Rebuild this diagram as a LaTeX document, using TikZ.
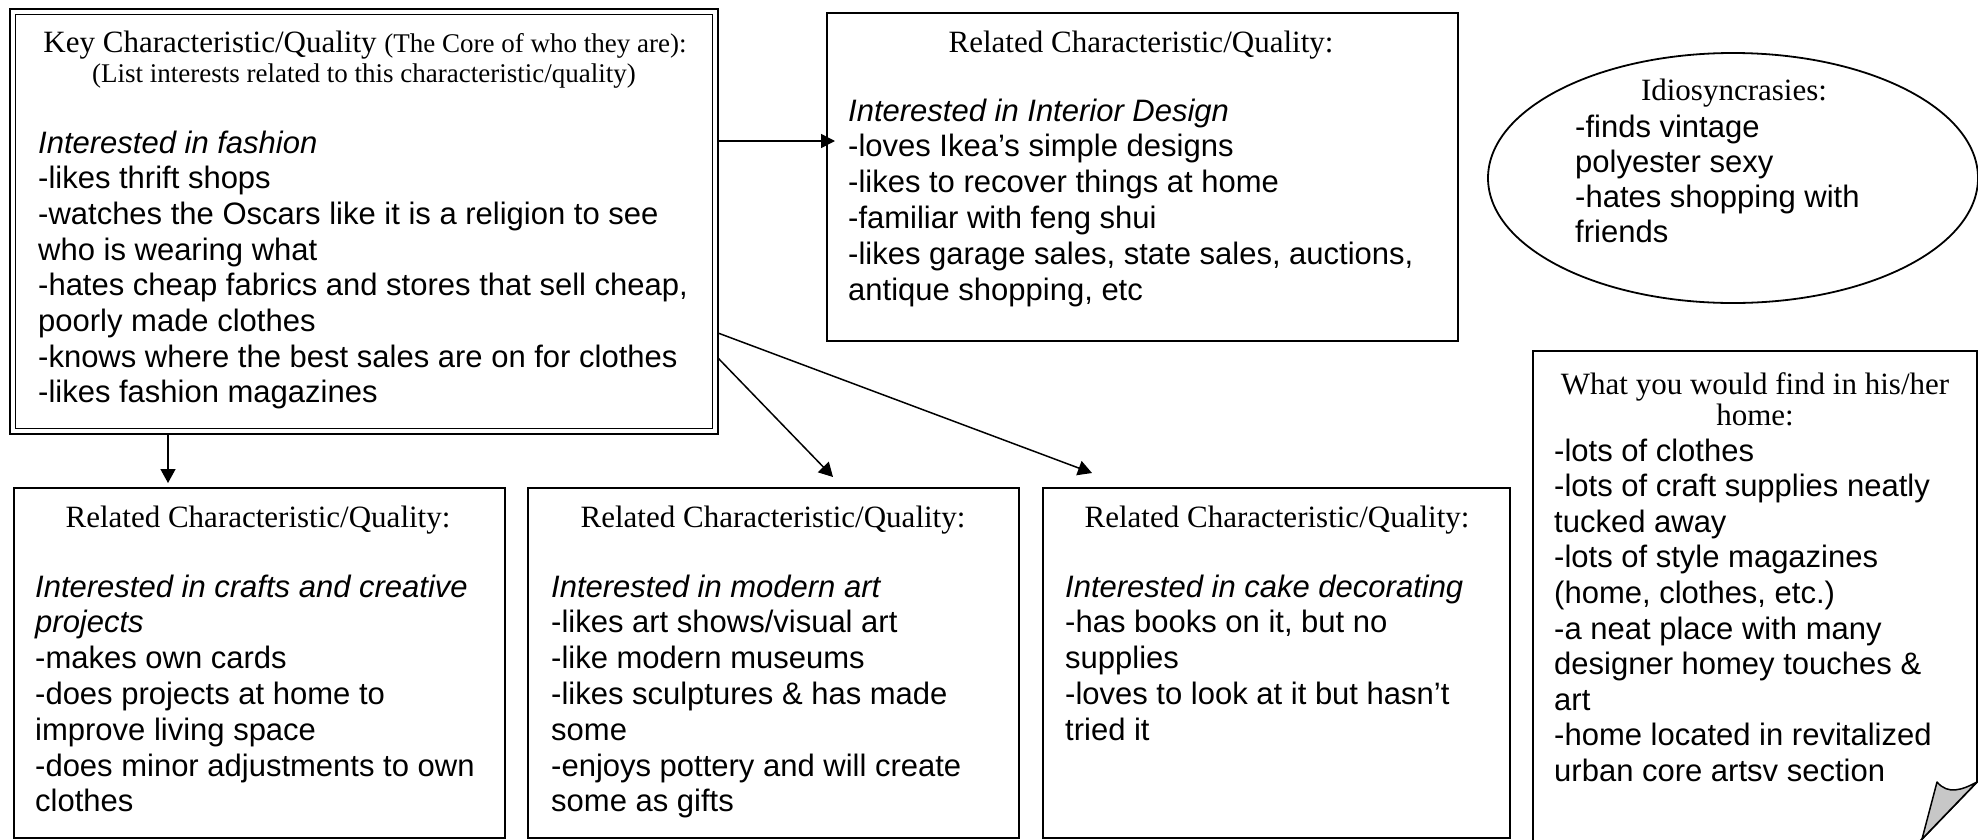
\documentclass[tikz,border=0pt]{standalone}
\usepackage{fontspec}
\setmainfont{Liberation Serif}
\setsansfont{Liberation Sans}
\usetikzlibrary{arrows.meta,shapes.geometric,calc}
\begin{document}
\begin{tikzpicture}[x=1pt,y=-1pt,
  box/.style={draw,line width=1.8pt,inner sep=0pt,outer sep=0pt},
  txt/.style={font=\sffamily\fontsize{31}{35.6}\selectfont,inner sep=0pt,anchor=base west},
  head/.style={font=\rmfamily\fontsize{31}{35.6}\selectfont,inner sep=0pt,anchor=base},
  small/.style={font=\rmfamily\fontsize{27}{30}\selectfont},
  arr/.style={-{Triangle[length=14pt,width=15pt]},line width=1.5pt},
  arrs/.style={-{Triangle[length=14pt,width=14pt]},line width=1.5pt}]
\useasboundingbox (0,0) rectangle (1978,839);

% ---------- key box (double border) ----------
\node[box,line width=2.2pt,minimum width=708pt,minimum height=425pt] (key) at (364,221.5) {};
\draw[line width=1.8pt] ([xshift=5.5pt,yshift=-5.5pt]key.north west) rectangle ([xshift=-5.5pt,yshift=5.5pt]key.south east);
\node[head] (keyh1) at (365,52) {Key Characteristic/Quality {\fontsize{27}{30}\selectfont (The Core of who they are):}};
\node[head,small] (keyh2) at (364,82) {(List interests related to this characteristic/quality)};
\foreach \t [count=\i from 0] in {{\itshape Interested in fashion},
  -likes thrift shops,
  -watches the Oscars like it is a religion to see,
  who is wearing what,
  {-hates cheap fabrics and stores that sell cheap,},
  poorly made clothes,
  -knows where the best sales are on for clothes,
  -likes fashion magazines}
  \node[txt] (key-\i) at (38,{153+35.7*\i}) {\t};

% ---------- interior design ----------
\node[box,minimum width=631pt,minimum height=328pt] (int) at (1142.5,177) {};
\node[head] (inth) at (1141,52) {Related Characteristic/Quality:};
\foreach \t [count=\i from 0] in {{\itshape Interested in Interior Design},
  -loves Ikea’s simple designs,
  -likes to recover things at home,
  -familiar with feng shui,
  {-likes garage sales, state sales, auctions,},
  {antique shopping, etc}}
  \node[txt] (int-\i) at (848,{121+35.8*\i}) {\t};

% ---------- idiosyncrasies ----------
\node[draw,ellipse,line width=1.8pt,inner sep=0pt,minimum width=490pt,minimum height=250pt] (idio) at (1733,178) {};
\node[head] (idioh) at (1734,100) {Idiosyncrasies:};
\foreach \t [count=\i from 0] in {-finds vintage,
  polyester sexy,
  -hates shopping with,
  friends}
  \node[txt] (idio-\i) at (1575,{137+35*\i}) {\t};

% ---------- bottom boxes ----------
\node[box,minimum width=491pt,minimum height=350pt] (crafts) at (259.5,663) {};
\node[box,minimum width=491pt,minimum height=350pt] (modern) at (773.5,663) {};
\node[box,minimum width=467pt,minimum height=350pt] (cake) at (1276.5,663) {};
\node[head] (craftsh) at (258,527) {Related Characteristic/Quality:};
\node[head] (modernh) at (773,527) {Related Characteristic/Quality:};
\node[head] (cakeh) at (1277,527) {Related Characteristic/Quality:};
\foreach \t [count=\i from 0] in {{\itshape Interested in crafts and creative},
  {\itshape projects},
  -makes own cards,
  -does projects at home to,
  improve living space,
  -does minor adjustments to own,
  clothes}
  \node[txt] (crafts-\i) at (35,{597+35.8*\i}) {\t};
\foreach \t [count=\i from 0] in {{\itshape Interested in modern art},
  -likes art shows/visual art,
  -like modern museums,
  -likes sculptures \& has made,
  some,
  -enjoys pottery and will create,
  some as gifts}
  \node[txt] (modern-\i) at (551,{597+35.8*\i}) {\t};
\foreach \t [count=\i from 0] in {{\itshape Interested in cake decorating},
  {-has books on it, but no},
  supplies,
  -loves to look at it but hasn’t,
  tried it}
  \node[txt] (cake-\i) at (1065,{597+35.8*\i}) {\t};

% ---------- home note (folded corner) ----------
\coordinate (nBL) at (1533,870);
\coordinate (nTL) at (1533,351);
\coordinate (nTR) at (1977,351);
\coordinate (nFR) at (1977,782);
\coordinate (nFB) at (1922,839);
\coordinate (nFT) at (1937,782);
\draw[line width=1.8pt] (nBL) -- (nTL) -- (nTR) -- (nFR) -- ($(nFR)!1.15!(nFB)$);
\filldraw[fill=black!22,line width=1.5pt,line join=round] (nFR) .. controls (1962,790) and (1948,795) .. (nFT) -- (nFB) -- cycle;
\node[head] (noteh1) at (1755,394) {What you would find in his/her};
\node[head] (noteh2) at (1755,425) {home:};
\foreach \t [count=\i from 0] in {-lots of clothes,
  -lots of craft supplies neatly,
  tucked away,
  -lots of style magazines,
  {(home, clothes, etc.)},
  -a neat place with many,
  designer homey touches \&,
  art,
  -home located in revitalized,
  urban core artsv section}
  \node[txt] (note-\i) at (1554,{461+35.6*\i}) {\t};

% ---------- connectors ----------
\draw[arrs] (key.east |- 0,141) -- ([xshift=8pt]int.west |- 0,141);
\draw[arr] (key.south -| 168,0) -- ([yshift=5pt]crafts.north -| 168,0);
\draw[arr] (key.east |- 0,358) -- ([xshift=59.5pt,yshift=11pt]modern.north);
\draw[arr] (key.east |- 0,333) -- ([xshift=-184.5pt,yshift=15pt]cake.north);
\end{tikzpicture}
\end{document}
